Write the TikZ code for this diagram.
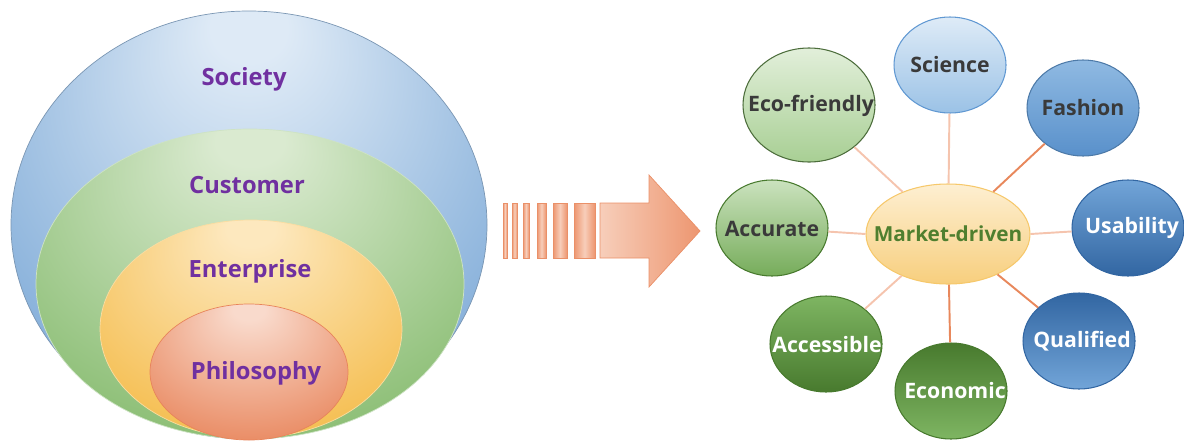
\documentclass[tikz,border=0pt]{standalone}
\usepackage{fontspec}
\usetikzlibrary{shapes.geometric}
\setmainfont{Open Sans}
\definecolor{RingBlueL}{RGB}{222,234,246}
\definecolor{RingBlueD}{RGB}{118,165,213}
\definecolor{RingGreenL}{RGB}{218,234,208}
\definecolor{RingGreenD}{RGB}{132,186,108}
\definecolor{RingYellowL}{RGB}{253,232,190}
\definecolor{RingYellowD}{RGB}{244,186,70}
\definecolor{RingOrangeL}{RGB}{249,218,204}
\definecolor{RingOrangeD}{RGB}{232,132,90}
\definecolor{RingPurple}{RGB}{112,48,160}
\definecolor{BubbleGray}{RGB}{58,58,58}
\definecolor{MarketGreen}{RGB}{79,127,47}
\definecolor{BlueTop}{RGB}{222,235,247}
\definecolor{BlueLight}{RGB}{155,194,230}
\definecolor{BlueMid}{RGB}{96,152,210}
\definecolor{BlueDark}{RGB}{50,102,162}
\definecolor{GreenTop}{RGB}{226,239,218}
\definecolor{GreenLight}{RGB}{168,207,148}
\definecolor{GreenMid}{RGB}{126,181,98}
\definecolor{GreenDark}{RGB}{72,122,46}
\definecolor{SpokeLight}{RGB}{245,196,174}
\definecolor{SpokeDark}{RGB}{232,136,92}
\definecolor{BarDark}{RGB}{237,150,112}
\definecolor{BarLight}{RGB}{247,206,186}
\definecolor{BarEdge}{RGB}{234,144,104}
\pgfdeclareradialshading[ringin,ringout]{ringglow}{\pgfpoint{0bp}{25bp}}{color(0bp)=(ringin); color(4bp)=(ringin); color(37bp)=(ringout); color(50bp)=(ringout)}

\begin{document}
\begin{tikzpicture}[x=0.2mm, y=-0.2mm,
  ringfill/.style 2 args={shade, shading=ringglow, /utils/exec={\colorlet{ringin}{#1}\colorlet{ringout}{#2}}},
  ringtext/.style={font=\fontsize{13.5}{16}\selectfont\bfseries, text=RingPurple},
  bubble/.style={ellipse, draw, line width=0.6pt, minimum width=22.4mm, minimum height=19.2mm, inner sep=0pt},
  bubbletext/.style={font=\fontsize{12.1}{14}\selectfont\bfseries, text=BubbleGray},
  spoke/.style={line width=1.1pt, draw=SpokeLight},
  spokedark/.style={line width=1.1pt, draw=SpokeDark},
  bar/.style={draw=BarEdge, line width=0.4pt, left color=BarDark, right color=BarDark, middle color=BarLight}]
\useasboundingbox (0,0) rectangle (1184,442); % page size

% nested rings
\path[ringfill={RingBlueL}{RingBlueD}, draw=RingBlueD!60!gray] (249,225) ellipse (238 and 214); %Society
\path[ringfill={RingGreenL}{RingGreenD}, draw=white!60!RingGreenD] (250,284) ellipse (214 and 155); %Customer
\path[ringfill={RingYellowL}{RingYellowD}, draw=white!50!RingYellowD] (251,329) ellipse (151 and 109); %Enterprise
\path[ringfill={RingOrangeL}{RingOrangeD}, draw=RingOrangeD] (249,372) ellipse (99 and 68); %Philosophy

\node[ringtext] (society) at (244,79) {Society};
\node[ringtext] (customer) at (247,185) {Customer};
\node[ringtext] (enterprise) at (250,271) {Enterprise};
\node[ringtext] (philosophy) at (256,373) {Philosophy};

% bars and arrow
\path[bar] (503,203) rectangle (507,258);
\path[bar] (512,203) rectangle (517,258);
\path[bar] (523,203) rectangle (529,258);
\path[bar] (537,203) rectangle (546,258);
\path[bar] (553,203) rectangle (567,258);
\path[bar] (574,203) rectangle (595,258);
\path[draw=BarEdge, line width=0.4pt, left color=BarLight, right color=BarDark] (600,203) -- (649,203) -- (649,175) -- (700,231) -- (649,287) -- (649,258) -- (600,258) -- cycle; %big arrow

% hub and bubbles
\node[bubble, minimum width=32.8mm, minimum height=20mm, draw=RingYellowD!80!white, top color=RingYellowL!70!white, bottom color=RingYellowD!70!white] (market) at (948,234) {};
\node[bubble, draw=BlueMid, top color=BlueTop, bottom color=BlueLight] (science) at (950,65) {};
\node[bubble, draw=BlueMid!80!black, top color=BlueLight!80!BlueMid, bottom color=BlueMid!85!BlueDark] (fashion) at (1083,108) {};
\node[bubble, draw=BlueDark, top color=BlueMid!70!BlueLight, bottom color=BlueDark] (usability) at (1128,228) {};
\node[bubble, draw=BlueDark, top color=BlueDark, bottom color=BlueMid!70!BlueLight] (qualified) at (1079,341) {};
\node[bubble, draw=GreenDark, top color=GreenDark, bottom color=GreenMid] (economic) at (951,391) {};
\node[bubble, draw=GreenDark, top color=GreenMid, bottom color=GreenDark] (accessible) at (826,344) {};
\node[bubble, draw=GreenDark, top color=GreenTop!60!GreenLight, bottom color=GreenMid!85!GreenDark] (accurate) at (772,228) {};
\node[bubble, minimum width=26.4mm, minimum height=22.8mm, draw=GreenMid!60!black, top color=GreenTop, bottom color=GreenLight] (ecofriendly) at (809,105) {};

\node[bubbletext, font=\fontsize{11.8}{14}\selectfont\bfseries, text=MarketGreen] (markettext) at (market) {Market-driven};
\node[bubbletext] (sciencetext) at (science) {Science};
\node[bubbletext] (fashiontext) at (fashion) {Fashion};
\node[bubbletext, text=white] (usabilitytext) at (1132,228) {Usability};
\node[bubbletext, text=white] (qualifiedtext) at (1082,341) {Qualified};
\node[bubbletext, text=white] (economictext) at (955,391) {Economic};
\node[bubbletext, text=white] (accessibletext) at (827,345) {Accessible};
\node[bubbletext] (accuratetext) at (772,229) {Accurate};
\node[bubbletext] (ecofriendlytext) at (811,106) {Eco-friendly};

% spokes
\draw[spoke] (market) -- (science);
\draw[spokedark] (market) -- (fashion);
\draw[spoke] (market.east) -- (usability);
\draw[spokedark] (market) -- (qualified);
\draw[spokedark] (market) -- (economic);
\draw[spoke] (market) -- (accessible);
\draw[spoke] (market.west) -- (accurate);
\draw[spoke] (market) -- (ecofriendly);

\end{tikzpicture}
\end{document}
